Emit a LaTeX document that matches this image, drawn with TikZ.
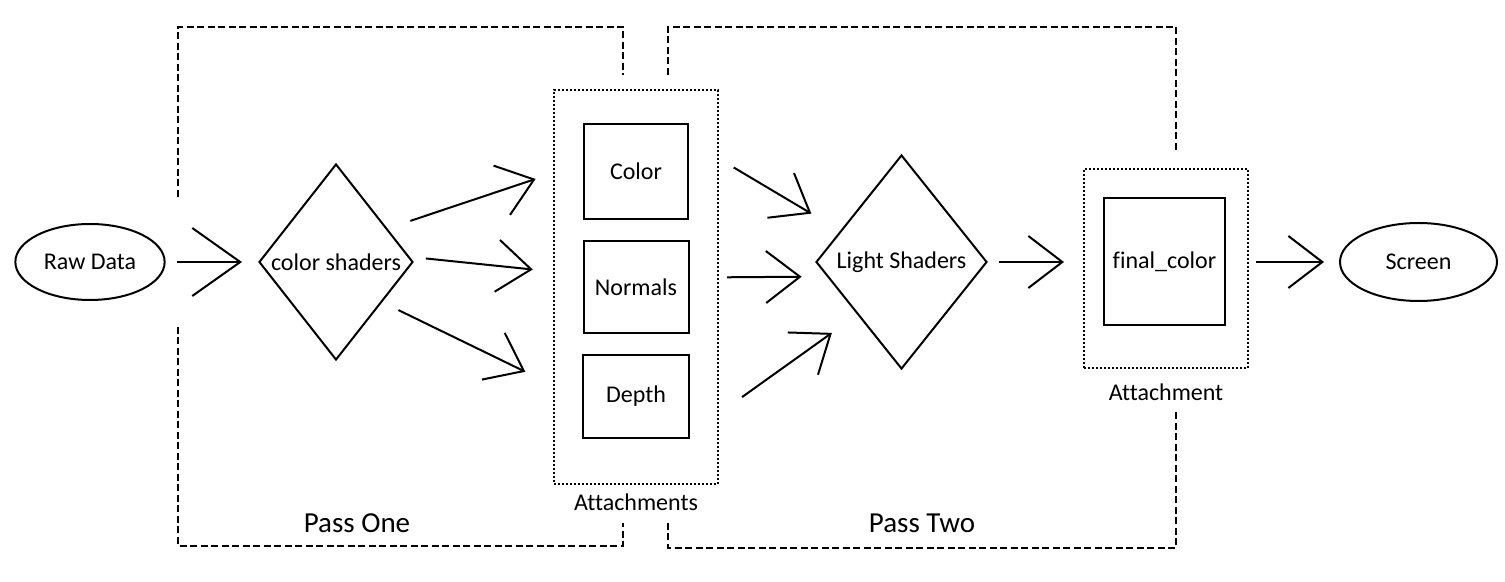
\documentclass[tikz,border=0pt]{standalone}
\usepackage{fontspec}
\setmainfont{Carlito}[Ligatures=NoCommon]
\usetikzlibrary{shapes.geometric,arrows.meta,positioning}

\begin{document}
\begin{tikzpicture}[node distance=3em, font=\fontsize{12}{14}\selectfont,
    blob/.style={ellipse, draw, line width=1pt, minimum width=74pt, minimum height=38pt},
    shader/.style={diamond, draw, line width=1pt, inner sep=0pt},
    buffer/.style={rectangle, draw, line width=1pt},
    attach/.style={rectangle, draw, line width=1pt, dash pattern=on 1pt off 1pt},
    frame/.style={rectangle, inner sep=0pt, outer sep=0pt},
    pass/.style={line width=1pt, dash pattern=on 3.5pt off 1.75pt},
    flow/.style={line width=1pt, -{Straight Barb[length=17pt,width=26pt]}},
    passlabel/.style={font=\fontsize{14.5}{17}\selectfont}]
    \useasboundingbox (-45pt,-160pt) rectangle (707.5pt,131pt);

	\node[blob] (raw) {Raw Data};
	\node[shader, minimum width=77pt, minimum height=98pt, right of=raw, node distance=123pt, label=center:{color shaders}] (cshade) {};
    \draw[flow, -{Straight Barb[length=24pt,width=34pt]}, shorten <=5.5pt, shorten >=8pt] (raw) -- (cshade);

	\node[attach, minimum width=82pt, minimum height=197pt, right of=cshade, node distance=150pt, yshift=-12.5pt] (gbuf) {};
	\node[buffer, minimum width=52.5pt, minimum height=46pt] (normals) at (gbuf) {Normals};
	\node[buffer, minimum width=52pt, minimum height=47.5pt, above of=normals, node distance=57.75pt] (color) {Color};
	\node[buffer, minimum width=53pt, minimum height=41.5pt, below of=normals, node distance=54.75pt] (depth) {Depth};
	\node[below of=gbuf, node distance=107.5pt] (gbuflabel) {Attachments};
    \draw[flow, shorten <=12pt, shorten >=25pt] (cshade.33) -- (color.171);
    \draw[flow, shorten <=8pt, shorten >=25pt] (cshade.4) -- (normals.167);
    \draw[flow, shorten <=9pt, shorten >=31.5pt] (cshade.319) -- (depth.183);

	\node[shader, minimum width=85.5pt, minimum height=107pt, right of=cshade, node distance=282.75pt, label=center:{Light Shaders}] (lshade) {};
    \draw[flow, shorten <=26pt, shorten >=16.7pt] (color.30) -- (lshade.153);
    \draw[flow, shorten <=18.75pt, shorten >=12.5pt] (normals.10) -- (lshade.191);
    \draw[flow, shorten <=32pt, shorten >=15.6pt] (depth.325) -- (lshade.230);

	\node[attach, minimum width=82pt, minimum height=99.5pt, right of=lshade, node distance=132.25pt, yshift=-3.25pt] (outbuf) {};
	\node[buffer, minimum width=60.5pt, minimum height=63.5pt, right of=lshade, node distance=131.5pt] (final) {final\_color};
	\node[below of=outbuf, node distance=61.75pt] (outlabel) {Attachment};
    \draw[flow, shorten <=5.5pt, shorten >=19.5pt] (lshade) -- (final);

	\node[blob, minimum width=78.5pt, minimum height=39pt, right of=final, node distance=127pt] (screen) {Screen};
    \draw[flow, shorten <=15pt, shorten >=7.5pt] (final) -- (screen);

	\node[frame, minimum width=222.5pt, minimum height=259.5pt, right of=raw, node distance=155.25pt, yshift=-12.25pt] (passone) {};
	\node[passlabel, below of=passone, node distance=118.25pt, xshift=-21.75pt] (passonelabel) {Pass One};
    \draw[pass] ([yshift=-85pt]passone.north west) -- (passone.north west) -- (passone.north east) -- ++(0,-24pt);
    \draw[pass] ([yshift=109.5pt]passone.south west) -- (passone.south west) -- (passone.south east) -- ++(0,11.5pt);

	\node[frame, minimum width=254pt, minimum height=260.5pt, right of=raw, node distance=416pt, yshift=-12.75pt] (passtwo) {};
	\node[passlabel, below of=passtwo, node distance=117.75pt] (passtwolabel) {Pass Two};
    \draw[pass] ([yshift=-24pt]passtwo.north west) -- (passtwo.north west) -- (passtwo.north east) -- ++(0,-63pt);
    \draw[pass] ([yshift=12.5pt]passtwo.south west) -- (passtwo.south west) -- (passtwo.south east) -- ++(0,68pt);
\end{tikzpicture}
\end{document}
